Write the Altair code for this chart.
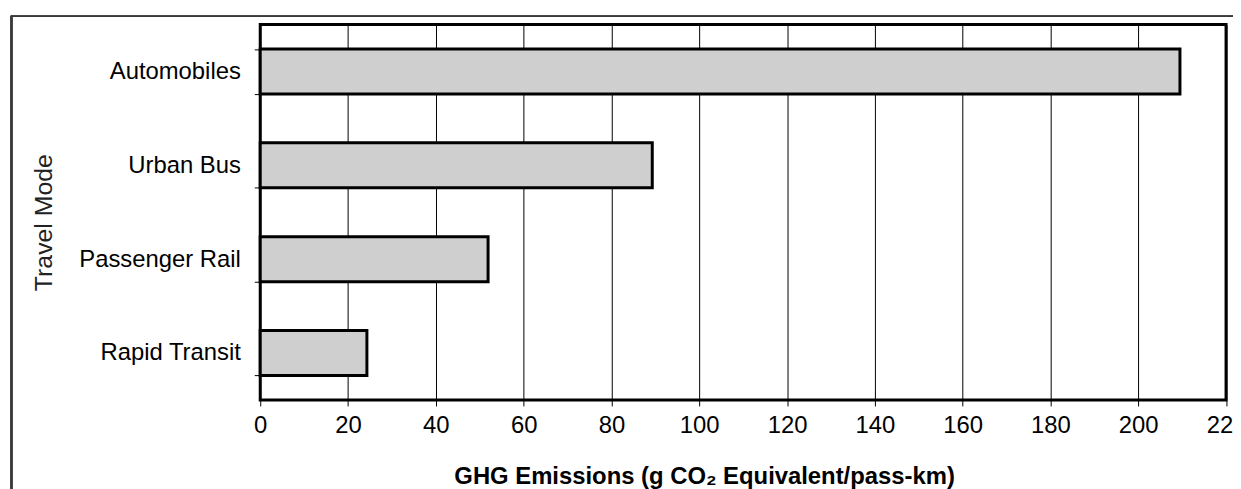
import altair as alt
import pandas as pd

modes = ["Automobiles", "Urban Bus", "Passenger Rail", "Rapid Transit"]
emissions = [209.5, 89.3, 51.9, 24.3]
x_ticks = [0, 20, 40, 60, 80, 100, 120, 140, 160, 180, 200, 220]

df = pd.DataFrame({"mode": modes, "ghg": emissions})

FONT = "Liberation Sans"

bars = alt.Chart(df).mark_bar(
    fill="#cfcfcf", stroke="black", strokeWidth=3
).encode(
    x=alt.X(
        "ghg:Q",
        scale=alt.Scale(domain=[0, 220], nice=False, zero=True),
        axis=alt.Axis(
            values=x_ticks,
            grid=True, gridColor="black", gridWidth=1, gridOpacity=1,
            domain=False, ticks=True, tickColor="black", tickSize=6, tickWidth=1,
            labelFont=FONT, labelFontSize=24, labelColor="black", labelPadding=8,
            labelFlush=False, labelOverlap=False,
            title="GHG Emissions (g CO\u2082 Equivalent/pass-km)",
            titleFont=FONT, titleFontSize=24, titleFontWeight="bold", titleColor="black",
            titleX=447, titleY=84, titleAnchor="middle", titleAlign="center",
            titleBaseline="alphabetic",
        ),
    ),
    y=alt.Y(
        "mode:N",
        sort=modes,
        scale=alt.Scale(paddingInner=0.52, paddingOuter=0.26),
        axis=alt.Axis(
            grid=False, domain=False, ticks=True, tickBand="extent",
            tickColor="black", tickSize=6, tickWidth=1,
            labelFont=FONT, labelFontSize=24, labelColor="black", labelPadding=14,
            title="Travel Mode", titleFont=FONT, titleFontSize=25,
            titleFontWeight="normal", titleColor="#222", titleAngle=270,
            titleX=-218, titleY=199, titleAlign="center", titleBaseline="middle",
        ),
    ),
)

frame_h = alt.Chart(df).mark_rule(color="#3a3a3a", strokeWidth=1.5).encode(
    x=alt.value(-251), x2=alt.value(990), y=alt.value(-8.5)
)
frame_v = alt.Chart(df).mark_rule(color="#3a3a3a", strokeWidth=2).encode(
    x=alt.value(-250.5), y=alt.value(-9), y2=alt.value(480)
)

chart = alt.layer(frame_h, frame_v, bars).properties(
    width=972.6,
    height=378,
    autosize=alt.AutoSizeParams(type="none"),
    padding={"left": 254, "top": 15, "right": 7, "bottom": 88},
).configure(
    background="white"
).configure_view(
    stroke="black", strokeWidth=3
)

chart.save("out.html", embed_options={"renderer": "svg", "actions": False})
